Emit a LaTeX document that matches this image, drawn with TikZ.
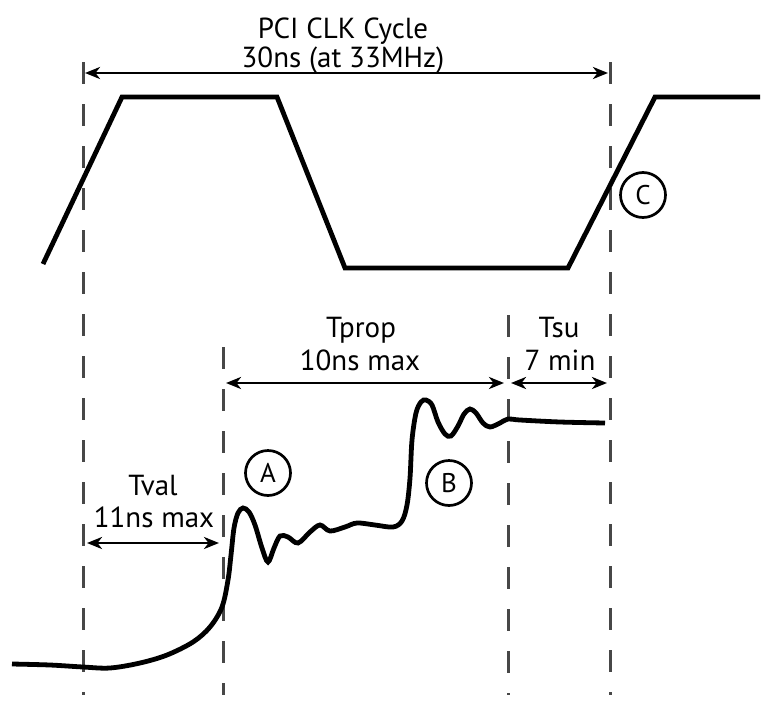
\documentclass[tikz,border=0pt]{standalone}
\usepackage{fontspec}
\setmainfont{PT Sans}
\usetikzlibrary{arrows.meta}
\begin{document}
\begin{tikzpicture}[x=1pt,y=-1pt,
  wave/.style={line width=4.8pt},
  guide/.style={draw=black!72, line width=3pt, dash pattern=on 22pt off 20pt},
  dim/.style={line width=2.7pt, {Stealth[length=15pt,width=12pt,inset=4.5pt]}-{Stealth[length=15pt,width=12pt,inset=4.5pt]}},
  lbl/.style={font=\fontsize{29}{31}\selectfont, inner sep=0pt, anchor=base},
  circlbl/.style={circle, draw, line width=2.7pt, minimum size=45pt, inner sep=0pt, font=\fontsize{27}{27}\selectfont}
]
\useasboundingbox (0,0) rectangle (775,701);
% guide lines
\coordinate (g1t) at (83,62);  \coordinate (g1b) at (83,695);
\coordinate (g2t) at (223,347); \coordinate (g2b) at (223,695);
\coordinate (g3t) at (508,315); \coordinate (g3b) at (508,695);
\coordinate (g4t) at (610,62); \coordinate (g4b) at (610,695);
\draw[guide] (g1t) -- (g1b);
\draw[guide] (g2t) -- (g2b);
\draw[guide] (g3t) -- (g3b);
\draw[guide] (g4t) -- (g4b);
% clock waveform
\draw[wave] (43,264) -- (122,97) -- (277,97) -- (345,268) -- (568,268) -- (655,97) -- (760,97);
% data waveform
\draw[wave] plot[smooth, tension=0.55] coordinates {
 (12,664) (50,665) (83,667) (110,668) (140,663) (167,655) (193,642) (210,627)
 (222,607) (228,580) (231,555) (234,528) (238,513) (243,508) (249,512) (255,525)
 (262,548) (268,562) (274,548) (280,536) (288,537) (298,543) (310,532) (320,525)
 (330,531) (345,527) (357,523) (375,525) (393,527) (402,521) (407,505) (410,478)
 (412,440) (416,413) (421,402) (426,400) (432,405) (438,422) (445,434) (451,436)
 (458,426) (464,414) (470,409) (476,413) (483,423) (490,427) (500,423) (508,419)
 (520,420) (560,422) (605,423)};
% dimension arrows
\coordinate (t1) at (85,73);   \coordinate (t2) at (608,73);
\coordinate (p1) at (226,383); \coordinate (p2) at (504,383);
\coordinate (s1) at (511,383); \coordinate (s2) at (607,383);
\coordinate (v1) at (87,543);  \coordinate (v2) at (219,543);
\draw[dim] (t1) -- (t2);
\draw[dim] (p1) -- (p2);
\draw[dim] (s1) -- (s2);
\draw[dim] (v1) -- (v2);
% labels
\node[lbl] (top1) at (343,38) {PCI CLK Cycle};
\node[lbl] (top2) at (343,67) {30ns (at 33MHz)};
\node[lbl] (tp1) at (361,337) {Tprop};
\node[lbl] (tp2) at (360,370) {10ns max};
\node[lbl] (ts1) at (559,337) {Tsu};
\node[lbl] (ts2) at (560,370) {7 min};
\node[lbl] (tv1) at (153,495) {Tval};
\node[lbl] (tv2) at (154,527) {11ns max};
% circled markers
\node[circlbl] (A) at (268,473) {A};
\node[circlbl] (B) at (449,483) {B};
\node[circlbl] (C) at (643,195) {C};
\end{tikzpicture}
\end{document}
